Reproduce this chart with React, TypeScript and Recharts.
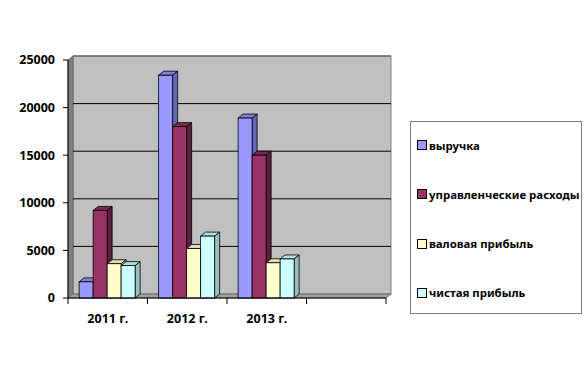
import React from "react";
import { BarChart, Bar, XAxis, YAxis, CartesianGrid, Legend } from "recharts";

const categories = ["2011 г.", "2012 г.", "2013 г.", ""];
const revenue = [1700, 23400, 18900, null];
const mgmtCosts = [9200, 18000, 15000, null];
const grossProfit = [3600, 5200, 3700, null];
const netProfit = [3400, 6500, 4100, null];
const yTicks = [0, 5000, 10000, 15000, 20000, 25000];

const seriesNames = ["выручка", "управленческие расходы", "валовая прибыль", "чистая прибыль"];

const data = categories.map((c, i) => ({
  name: c,
  s0: revenue[i],
  s1: mgmtCosts[i],
  s2: grossProfit[i],
  s3: netProfit[i],
}));

const FONT = "'Noto Sans', sans-serif";
const FS = 12.5;
const LFS = 11.4;
const DX = 5;
const DY = 4;

const colors = [
  { front: "#9999FF", top: "#8080E0", side: "#6666BB" },
  { front: "#993366", top: "#7A2952", side: "#5C1F3D" },
  { front: "#FFFFCC", top: "#E0E0B0", side: "#BFBF99" },
  { front: "#CCFFFF", top: "#B0E0E0", side: "#99BFBF" },
];

function Bar3D(props: any) {
  const { x, y, width, height, c } = props;
  if (height == null || width == null || isNaN(height) || height <= 0) return null;
  const sw = 0.8;
  return (
    <g>
      <polygon
        points={`${x},${y} ${x + DX},${y - DY} ${x + width + DX},${y - DY} ${x + width},${y}`}
        fill={c.top}
        stroke="#000"
        strokeWidth={sw}
      />
      <polygon
        points={`${x + width},${y} ${x + width + DX},${y - DY} ${x + width + DX},${y + height - DY} ${x + width},${y + height}`}
        fill={c.side}
        stroke="#000"
        strokeWidth={sw}
      />
      <rect x={x} y={y} width={width} height={height} fill={c.front} stroke="#000" strokeWidth={sw} />
    </g>
  );
}

function GridLine(props: any) {
  const { x, y, width, height, y1, index } = props;
  const wall =
    index === 0 ? (
      <g>
        <rect x={x + DX} y={y - DY} width={width} height={height} fill="#C0C0C0" stroke="#808080" strokeWidth={1} />
        <line x1={x + DX} y1={y - DY} x2={x + width + DX} y2={y - DY} stroke="#505050" strokeWidth={1.2} />
        <polygon
          points={`${x},${y} ${x + DX},${y - DY} ${x + DX},${y + height - DY} ${x},${y + height}`}
          fill="#808080"
          stroke="#606060"
          strokeWidth={0.8}
        />
        <polygon
          points={`${x},${y + height} ${x + DX},${y + height - DY} ${x + width + DX},${y + height - DY} ${x + width},${y + height}`}
          fill="#A0A0A0"
          stroke="#606060"
          strokeWidth={0.8}
        />
      </g>
    ) : null;
  const isEdge = Math.abs(y1 - y) < 0.5 || Math.abs(y1 - (y + height)) < 0.5;
  return (
    <g>
      {wall}
      {!isEdge && (
        <line x1={x + DX} y1={y1 - DY} x2={x + width + DX} y2={y1 - DY} stroke="#000" strokeWidth={1} />
      )}
    </g>
  );
}

function XTick(props: any) {
  const { x, y, payload, index, visibleTicksCount } = props;
  const half = payload && payload.offset ? payload.offset : 39.75;
  const isLast = index === (visibleTicksCount ?? 4) - 1;
  return (
    <g>
      <line x1={x - half} y1={y} x2={x - half} y2={y + 6} stroke="#000" strokeWidth={1} />
      {isLast && <line x1={x + half} y1={y} x2={x + half} y2={y + 6} stroke="#000" strokeWidth={1} />}
      <text x={x} y={y + 20} textAnchor="middle" dominantBaseline="central" fontFamily={FONT} fontWeight="bold" fontSize={FS} fill="#000">
        {payload.value}
      </text>
    </g>
  );
}

function LegendBox() {
  return (
    <div
      style={{
        width: 172,
        height: 193,
        boxSizing: "border-box",
        border: "1px solid #808080",
        background: "#fff",
        position: "relative",
        fontFamily: FONT,
        fontWeight: "bold",
        fontSize: LFS,
        color: "#000",
      }}
    >
      {seriesNames.map((name, i) => (
        <div
          key={i}
          style={{
            position: "absolute",
            left: 6,
            top: 23 + i * 49.3 - 8,
            height: 16,
            display: "flex",
            alignItems: "center",
            whiteSpace: "nowrap",
          }}
        >
          <span
            style={{
              display: "inline-block",
              width: 8,
              height: 8,
              background: colors[i].front,
              border: "1px solid #000",
              marginRight: 2,
            }}
          />
          <span>{name}</span>
        </div>
      ))}
    </div>
  );
}

export default function App() {
  return (
    <div style={{ position: "absolute", left: 0, top: 0, width: 585, height: 385, background: "#fff" }}>
      <BarChart
        width={585}
        height={385}
        data={data}
        margin={{ top: 60, right: 199, bottom: 57, left: 0 }}
        barGap={0}
        barCategoryGap="14%"
      >
        <CartesianGrid vertical={false} horizontal={(p: any) => <GridLine {...p} />} />
        <XAxis
          dataKey="name"
          axisLine={{ stroke: "#000", strokeWidth: 1 }}
          tickLine={false}
          tickSize={0}
          tickMargin={0}
          tick={<XTick />}
          height={30}
          interval={0}
        />
        <YAxis
          domain={[0, 25000]}
          ticks={yTicks}
          width={68}
          axisLine={{ stroke: "#000", strokeWidth: 1 }}
          tickLine={{ stroke: "#000" }}
          tickSize={5}
          tickMargin={8}
          tick={{ fontFamily: FONT, fontWeight: "bold", fontSize: FS, fill: "#000" }}
        />
        <Legend
          layout="vertical"
          align="center"
          verticalAlign="middle"
          wrapperStyle={{ left: 410, top: 121, width: 172, height: 193 }}
          content={<LegendBox />}
        />
        {[0, 1, 2, 3].map((i) => (
          <Bar
            key={i}
            dataKey={`s${i}`}
            name={seriesNames[i]}
            fill={colors[i].front}
            isAnimationActive={false}
            shape={(p: any) => <Bar3D {...p} c={colors[i]} />}
          />
        ))}
      </BarChart>
    </div>
  );
}
